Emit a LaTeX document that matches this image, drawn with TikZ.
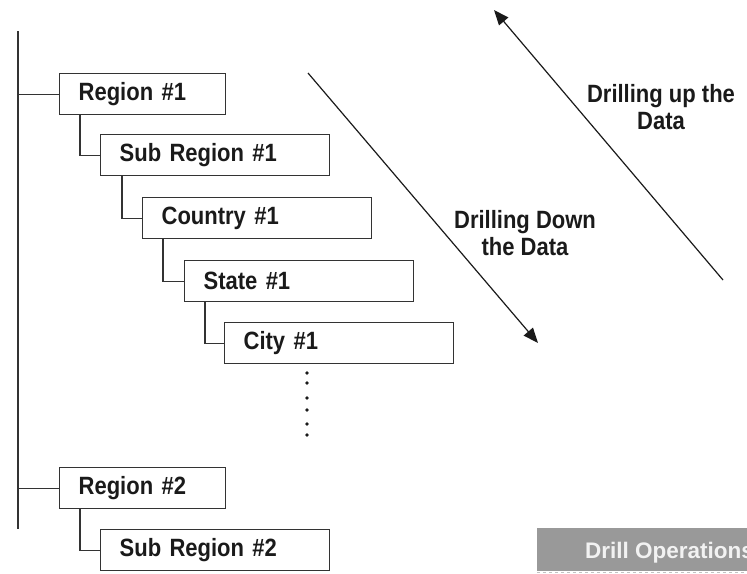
\documentclass[tikz,border=0pt]{standalone}
\usepackage{fontspec}
\setmainfont{Liberation Sans}
\newfontfamily\tallfont[FakeStretch=0.88]{Liberation Sans}
\usetikzlibrary{calc,arrows.meta}
\definecolor{edge}{HTML}{333333}
\definecolor{ink}{HTML}{1A1A1A}
\definecolor{banner}{HTML}{999999}
\definecolor{bannertext}{HTML}{F2F2F2}
\begin{document}
\begin{tikzpicture}[x=1pt,y=-1pt,
  level/.style={draw=edge, line width=1.3pt, anchor=north west, minimum height=41pt,
    minimum width=#1, text width=#1-38pt, inner xsep=19pt, inner ysep=0pt, align=left,
    font=\tallfont\fontsize{25}{29}\selectfont\bfseries, text=ink},
  level/.default=229pt,
  link/.style={draw=edge, line width=1.2pt},
  drill/.style={draw=ink, line width=1.2pt, -{Triangle[length=15pt,width=12pt]}},
  caption/.style={align=center, font=\tallfont\fontsize{25}{27}\selectfont\bfseries, text=ink}]
\useasboundingbox (0,0) rectangle (747,573);

% hierarchy trunk
\coordinate (trunktop) at (18,31);
\coordinate (trunkbot) at (18,529);
\draw[link] (trunktop) -- (trunkbot);

% first branch
\node[level=166pt] (r1) at (59,73) {Region \#1};
\node[level] (s1) at (100,134) {Sub Region \#1};
\node[level] (c1) at (142,197) {Country \#1};
\node[level] (st1) at (184,260) {State \#1};
\node[level] (ci1) at (224,322) {City \#1};

% second branch
\node[level=166pt] (r2) at (59,467) {Region \#2};
\node[level] (s2) at (100,529) {Sub Region \#2};

% connectors
\draw[link] (r1.west) -- (r1.west -| trunktop);
\draw[link] (r2.west) -- (r2.west -| trunktop);
\draw[link] ($(r1.south west)+(21pt,0)$) |- (s1.west);
\draw[link] ($(s1.south west)+(22pt,0)$) |- (c1.west);
\draw[link] ($(c1.south west)+(21pt,0)$) |- (st1.west);
\draw[link] ($(st1.south west)+(21pt,0)$) |- (ci1.west);
\draw[link] ($(r2.south west)+(21pt,0)$) |- (s2.west);

% continuation dots
\foreach \y in {373,383,398,410,424,435}
  \fill[ink] (307,\y) circle (1.9pt);

% drill arrows
\coordinate (downstart) at (308,73);
\coordinate (downend) at (538,343);
\coordinate (upstart) at (723,280);
\coordinate (upend) at (494,10);
\draw[drill] (downstart) -- (downend);
\draw[drill] (upstart) -- (upend);
\node[caption] (downlbl) at (525,233) {Drilling Down\\the Data};
\node[caption] (uplbl) at (661,107) {Drilling up the\\Data};

% title banner
\fill[banner] (537,528) rectangle (760,571);
\draw[banner!60, dashed, line width=0.6pt] (537,572) -- (760,572);
\node[anchor=base west, inner sep=0pt, text=bannertext,
  font=\fontsize{22.5}{26}\selectfont\bfseries] (bannerlbl) at (585,558) {Drill Operations};
\end{tikzpicture}
\end{document}
